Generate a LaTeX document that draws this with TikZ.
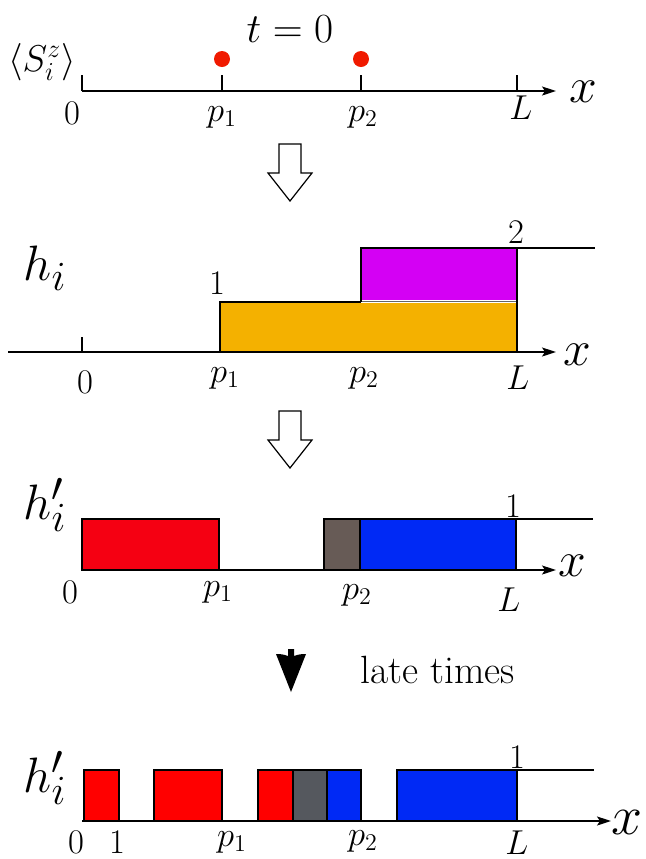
\documentclass[tikz,border=0pt]{standalone}
\usepackage{graphicx}
\usetikzlibrary{positioning, arrows.meta, calc}

\definecolor{dotR}{HTML}{F01A00}
\definecolor{colO}{HTML}{F4B100}
\definecolor{colP}{HTML}{D400F4}
\definecolor{colR}{HTML}{F50012}
\definecolor{colRR}{HTML}{FF0000}
\definecolor{colK}{HTML}{675B56}
\definecolor{colKK}{HTML}{55585E}
\definecolor{colB}{HTML}{0029F5}

\tikzset{
    axis/.style={line width=0.8pt, -{Stealth[length=7pt, width=4.5pt, inset=1.5pt]}},
    tick/.style={line width=0.7pt},
    box/.style={draw=black, line width=0.7pt},
    lab/.style={font=\LARGE, inner sep=0pt},
    big/.style={font=\Huge, inner sep=0pt},
    head/.style={font=\huge, inner sep=0pt},
    hollow/.style={draw=black, line width=0.6pt, fill=white}
}

\begin{document}
\begin{tikzpicture}[x=0.5pt, y=-0.5pt]

\useasboundingbox (0,0) rectangle (645,859);

% t = 0: two spins flipped at p_1 and p_2
\node[head] (tzero) at (290,29) {$t=0$};
\node[head] (Sz) at (42,62) {\scalebox{0.9}{$\langle S^z_i\rangle$}};
\draw[axis] (82,91) -- (556,91);
\node[big] (xa) at (583,92) {$x$};
\foreach \px in {82, 222, 361, 517} {
    \draw[tick] (\px,91) -- (\px,75);
}
\fill[dotR] (222,59) circle (8);
\fill[dotR] (361,59) circle (8);
\node[lab] (a0) at (72,113) {$0$};
\node[lab] (ap1) at (222,117) {$p_1$};
\node[lab] (ap2) at (363,117) {$p_2$};
\node[lab] (aL) at (521,108) {$L$};

% hollow arrows between the panels
\foreach \dy in {0, 267} {
    \draw[hollow, yshift=-\dy*0.5pt]
        (279,144) -- (301,144) -- (301,173) -- (312,173) --
        (290,201) -- (268,173) -- (279,173) -- cycle;
}

% height field h_i
\node[big] (hi) at (45,268) {$h_i$};
\fill[colO] (221,303) rectangle (516,352);
\fill[colP] (362,249) rectangle (516,300);
\draw[axis] (8,352) -- (556,352);
\node[big] (xb) at (577,355) {$x$};
\draw[tick] (82,352) -- (82,337);
\draw[tick] (220,352) -- (220,302) -- (361,302);
\draw[line width=0.4pt, black!60] (361,301) -- (517,301);
\draw[tick] (361,302) -- (361,248) -- (595,248);
\draw[tick] (517,248) -- (517,352);
\node[lab] (b1) at (217,283) {$1$};
\node[lab] (b2) at (516,232) {$2$};
\node[lab] (b0) at (85,382) {$0$};
\node[lab] (bp1) at (225,378) {$p_1$};
\node[lab] (bp2) at (364,378) {$p_2$};
\node[lab] (bL) at (518,378) {$L$};

% height field h'_i
\node[big] (hpa) at (45,505) {$h'_i$};
\draw[box, fill=colR] (82,519) rectangle (219,570);
\draw[box, fill=colK] (324,519) rectangle (360,570);
\draw[box, fill=colB] (360,519) rectangle (516,570);
\draw[tick] (516,519) -- (593,519);
\draw[axis] (82,570) -- (556,570);
\node[big] (xc) at (572,566) {$x$};
\node[lab] (c1) at (513,506) {$1$};
\node[lab] (c0) at (70,592) {$0$};
\node[lab] (cp1) at (218,592) {$p_1$};
\node[lab] (cp2) at (357,595) {$p_2$};
\node[lab] (cL) at (509,600) {$L$};

% late times
\fill (288,649) -- (294,649) -- (294,656) to[bend left=10] (306,654) --
    (291,692) -- (276,654) to[bend left=10] (288,656) -- cycle;
\node[head] (late) at (438,670) {\scalebox{0.95}{late times}};

\node[big] (hpb) at (45,778) {$h'_i$};
\foreach \xa/\xb/\col in {84/119/colRR, 154/222/colRR, 258/293/colRR,
                          293/327/colKK, 327/361/colB, 397/517/colB} {
    \draw[box, fill=\col] (\xa,770) rectangle (\xb,821);
}
\draw[tick] (517,770) -- (594,770);
\draw[axis] (82,821) -- (611,821);
\node[big] (xd) at (627,822) {\scalebox{1.12}{$x$}};
\node[lab] (d1) at (517,757) {$1$};
\node[lab] (d0) at (76,842) {$0$};
\node[lab] (d1b) at (117,842) {$1$};
\node[lab] (dp1) at (232,842) {$p_1$};
\node[lab] (dp2) at (363,841) {$p_2$};
\node[lab] (dL) at (517,843) {$L$};

\end{tikzpicture}
\end{document}
